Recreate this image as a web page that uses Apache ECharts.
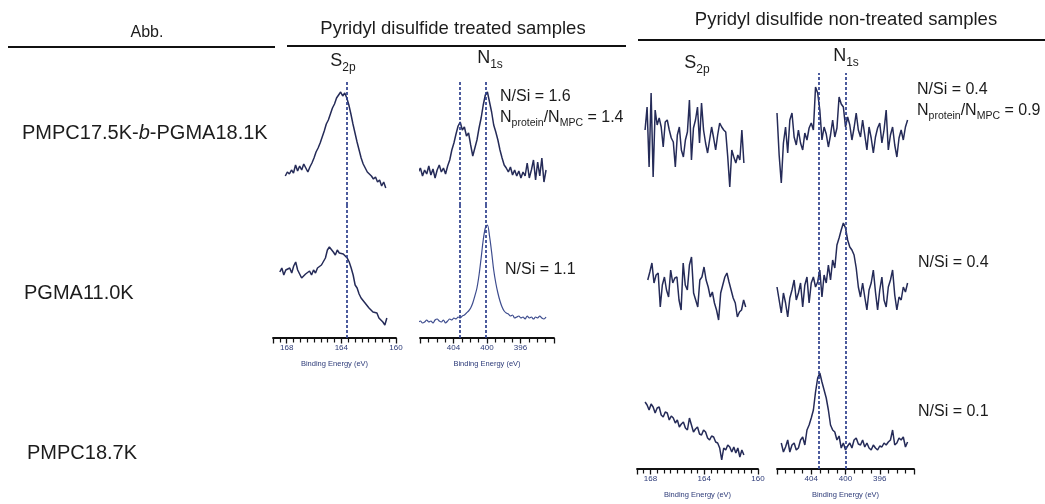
<!DOCTYPE html>
<html>
<head>
<meta charset="utf-8">
<script src="https://cdn.jsdelivr.net/npm/echarts@6/dist/echarts.min.js"></script>
<style>
html, body { margin: 0; padding: 0; background: #fff; }
#chart { width: 1045px; height: 504px; }
</style>
</head>
<body>
<div id="chart"></div>
<script>
// sample names and quoted ratios
const rowNames = ['PMPC17.5K-b-PGMA18.1K', 'PGMA11.0K', 'PMPC18.7K']
const nSiTreated = ['1.6', '1.1']
const nSiNonTreated = ['0.4', '0.4', '0.1']
const ratioTreated = '1.4'
const ratioNonTreated = '0.9'

// reference peak positions (eV)
const s2pRef = [163.6]
const n1sRefTreated = [403.3, 400.1]
const n1sRefNonTreated = [403.1, 400.0]

// energy windows (eV)
const s2pRange = [160, 169]
const n1sRange = [392, 408]

// scans: [start eV, step eV] + intensities (a.u.)
const treatedS2p1Scan = [168.1, 0.15]
const treatedS2p1 = [29, 33, 31, 35, 32, 40, 34, 39, 35, 41, 37, 33, 38, 42, 47, 53, 57, 62, 68, 74, 81, 85, 91, 97, 101, 107, 110, 113, 109, 112, 107, 100, 91, 81, 72, 63, 55, 47, 41, 37, 33, 31, 29, 26, 28, 23, 25, 19, 23, 17]
const treatedS2p2Scan = [168.5, 0.145]
const treatedS2p2 = [66, 70, 63, 68, 66, 70, 65, 72, 76, 68, 66, 60, 58, 64, 62, 67, 63, 68, 65, 70, 68, 73, 72, 80, 88, 91, 93, 86, 83, 88, 85, 87, 84, 86, 80, 76, 70, 63, 53, 50, 44, 40, 38, 35, 33, 30, 31, 26, 24, 25, 20, 22, 16, 13, 20]
const treatedN1s1Scan = [408.2, 0.25]
const treatedN1s1 = [33, 37, 29, 35, 31, 39, 30, 36, 27, 35, 40, 33, 37, 31, 39, 45, 55, 62, 71, 79, 83, 75, 78, 69, 72, 60, 49, 57, 65, 77, 87, 100, 110, 113, 103, 93, 80, 73, 65, 55, 47, 40, 37, 33, 38, 30, 35, 29, 34, 27, 33, 29, 42, 27, 35, 45, 25, 43, 29, 47, 23, 35]
const treatedN1s2Scan = [408.2, 0.25]
const treatedN1s2 = [16, 17, 15, 16, 18, 16, 17, 15, 18, 19, 17, 16, 18, 15, 17, 19, 18, 20, 19, 21, 20, 22, 23, 25, 27, 30, 35, 42, 50, 63, 80, 98, 110, 113, 102, 86, 68, 55, 45, 37, 31, 27, 25, 24, 22, 23, 20, 21, 22, 20, 21, 19, 22, 20, 21, 19, 21, 20, 22, 20, 19, 21]

const nonS2p1Scan = [168.4, 0.15]
const nonS2p1 = [75, 98, 38, 112, 28, 95, 80, 87, 78, 58, 83, 85, 75, 67, 63, 38, 70, 78, 55, 48, 65, 73, 105, 45, 77, 85, 98, 62, 102, 75, 62, 52, 65, 78, 67, 55, 70, 82, 78, 75, 73, 48, 18, 55, 48, 42, 50, 45, 75, 42]
const nonN1s1Scan = [408.0, 0.25]
const nonN1s1 = [92, 50, 22, 62, 78, 52, 85, 92, 68, 60, 75, 62, 55, 72, 65, 77, 82, 75, 118, 112, 95, 65, 78, 71, 58, 70, 85, 68, 77, 108, 101, 98, 78, 88, 80, 65, 77, 92, 75, 68, 85, 70, 55, 78, 67, 52, 68, 77, 82, 62, 75, 95, 55, 70, 78, 60, 48, 67, 75, 65, 78, 85]
const nonS2p2Scan = [168.2, 0.155]
const nonS2p2 = [60, 68, 77, 57, 65, 67, 33, 55, 63, 50, 43, 70, 57, 62, 63, 40, 30, 77, 55, 50, 75, 83, 47, 40, 33, 60, 63, 73, 60, 53, 43, 48, 37, 30, 20, 47, 55, 63, 67, 58, 50, 42, 37, 23, 28, 30, 40, 33]
const nonN1s2Scan = [408.0, 0.25]
const nonN1s2 = [53, 40, 27, 47, 37, 23, 42, 50, 60, 40, 47, 57, 33, 55, 63, 37, 57, 63, 53, 58, 70, 43, 65, 57, 75, 60, 80, 72, 95, 102, 110, 117, 112, 100, 93, 90, 85, 72, 53, 43, 57, 43, 30, 50, 57, 70, 48, 30, 50, 63, 40, 33, 53, 60, 70, 45, 30, 43, 40, 53, 48, 57]
const nonS2p3Scan = [168.4, 0.15]
const nonS2p3 = [67, 64, 59, 65, 62, 56, 61, 62, 54, 52, 57, 56, 49, 53, 51, 46, 49, 42, 45, 47, 41, 39, 51, 44, 37, 40, 42, 35, 34, 39, 37, 31, 29, 33, 32, 27, 26, 21, 9, 21, 19, 24, 22, 17, 22, 16, 21, 12, 19, 14]
const nonN1s3Scan = [407.5, 0.25]
const nonN1s3 = [26, 17, 22, 29, 17, 24, 26, 19, 21, 29, 32, 24, 39, 44, 51, 59, 77, 91, 96, 87, 79, 71, 59, 44, 39, 37, 29, 33, 21, 26, 19, 23, 26, 21, 29, 31, 25, 24, 29, 22, 26, 21, 19, 24, 21, 19, 23, 22, 26, 24, 27, 29, 39, 24, 26, 31, 29, 32, 22, 27]

const FONT = '"Liberation Sans", Arial, sans-serif'
const INK = '#1c1c1c'
const AXIS_BLUE = '#2c3a78'

const chart = echarts.init(document.getElementById('chart'))

function pts (scan, vals) {
  return vals.map((v, i) => [+(scan[0] - i * scan[1]).toFixed(3), v])
}

// panels: grid box, energy window, which one carries the visible axis
const panels = [
  { left: 273, top: 80, width: 123, height: 125, range: s2pRange, axis: false, data: pts(treatedS2p1Scan, treatedS2p1), refs: s2pRef },
  { left: 273, top: 205, width: 123, height: 133, range: s2pRange, axis: true, data: pts(treatedS2p2Scan, treatedS2p2), refs: s2pRef },
  { left: 420, top: 80, width: 134, height: 125, range: n1sRange, axis: false, data: pts(treatedN1s1Scan, treatedN1s1), refs: n1sRefTreated },
  { left: 420, top: 205, width: 134, height: 133, range: n1sRange, axis: true, data: pts(treatedN1s2Scan, treatedN1s2), refs: n1sRefTreated, smooth: true },
  { left: 637, top: 73, width: 121, height: 132, range: s2pRange, axis: false, data: pts(nonS2p1Scan, nonS2p1), refs: [] },
  { left: 637, top: 205, width: 121, height: 135, range: s2pRange, axis: false, data: pts(nonS2p2Scan, nonS2p2), refs: [] },
  { left: 637, top: 340, width: 121, height: 129, range: s2pRange, axis: true, data: pts(nonS2p3Scan, nonS2p3), refs: [] },
  { left: 777, top: 73, width: 137, height: 132, range: n1sRange, axis: false, data: pts(nonN1s1Scan, nonN1s1), refs: n1sRefNonTreated },
  { left: 777, top: 205, width: 137, height: 135, range: n1sRange, axis: false, data: pts(nonN1s2Scan, nonN1s2), refs: n1sRefNonTreated },
  { left: 777, top: 340, width: 137, height: 129, range: n1sRange, axis: true, data: pts(nonN1s3Scan, nonN1s3), refs: n1sRefNonTreated }
]

const grid = panels.map(p => ({ left: p.left, top: p.top, width: p.width, height: p.height }))

const xAxis = panels.map((p, i) => {
  const isS = p.range === s2pRange
  return {
    type: 'value',
    gridIndex: i,
    min: p.range[0],
    max: p.range[1],
    interval: 4,
    inverse: true,
    show: p.axis,
    axisLine: { lineStyle: { color: '#111', width: 1.8 } },
    axisTick: { length: 5.5, lineStyle: { color: '#111', width: 1.3 } },
    minorTick: { show: true, splitNumber: isS ? 8 : 4, length: 4.5, lineStyle: { color: '#111', width: 1.2 } },
    splitLine: { show: false },
    axisLabel: {
      fontSize: 8,
      fontFamily: FONT,
      color: AXIS_BLUE,
      margin: 6,
      formatter: v => {
        if (isS) return v % 4 === 0 ? String(v) : ''
        return (v > 392 && v < 408) ? String(v) : ''
      }
    },
    name: 'Binding Energy (eV)',
    nameLocation: 'middle',
    nameGap: 22,
    nameTextStyle: { fontSize: 7.5, fontFamily: FONT, color: AXIS_BLUE }
  }
})

const yAxis = panels.map((p, i) => ({
  type: 'value', gridIndex: i, min: 0, max: p.height, show: false
}))

const series = panels.map((p, i) => ({
  type: 'line',
  xAxisIndex: i,
  yAxisIndex: i,
  data: p.data,
  showSymbol: false,
  smooth: p.smooth ? 0.3 : false,
  lineStyle: { color: p.smooth ? '#3d4c8e' : '#252b58', width: p.smooth ? 1.2 : 1.5 },
  markLine: {
    silent: true,
    symbol: 'none',
    label: { show: false },
    lineStyle: { color: '#2d3f8c', type: [3, 2], width: 1.7 },
    data: p.refs.map(v => ({ xAxis: v }))
  }
}))

// text runs laid out piece by piece so subscripts sit low
const measureCtx = document.createElement('canvas').getContext('2d')
function widthOf (t, size, italic) {
  measureCtx.font = (italic ? 'italic ' : '') + size + 'px ' + FONT
  return measureCtx.measureText(t).width
}

// segs: [text, fontSize, dy, italic]
function runText (x, y, segs, align, sx) {
  sx = sx || 1
  const total = segs.reduce((s, g) => s + widthOf(g[0], g[1], g[3]), 0) * sx
  let cx = align === 'center' ? x - total / 2 : x
  return segs.map(g => {
    const el = {
      type: 'text',
      x: cx,
      y: y + (g[2] || 0),
      scaleX: sx,
      style: {
        text: g[0],
        fontSize: g[1],
        fontFamily: FONT,
        fontStyle: g[3] ? 'italic' : 'normal',
        fill: INK,
        align: 'left',
        verticalAlign: 'middle'
      }
    }
    cx += widthOf(g[0], g[1], g[3]) * sx
    return el
  })
}

function hline (x1, x2, y) {
  return {
    type: 'line',
    shape: { x1: x1, y1: y, x2: x2, y2: y },
    style: { stroke: '#111', lineWidth: 2 }
  }
}

function ratioText (x, y, val) {
  return runText(x, y, [['N', 16], ['protein', 10.5, 5], ['/N', 16], ['MPC', 10.5, 5], [' = ' + val, 16]])
}

const bName = rowNames[0].split('-b-')

const graphic = [
  hline(8, 275, 47),
  hline(287, 626, 46),
  hline(638, 1045, 40),
  ...runText(147, 33, [['Abb.', 16]], 'center'),
  ...runText(453, 29, [['Pyridyl disulfide treated samples', 18.5]], 'center'),
  ...runText(846, 20, [['Pyridyl disulfide non-treated samples', 18.5]], 'center'),
  ...runText(343, 61, [['S', 18], ['2p', 12, 7]], 'center'),
  ...runText(490, 58, [['N', 18], ['1s', 12, 7]], 'center'),
  ...runText(697, 63, [['S', 18], ['2p', 12, 7]], 'center'),
  ...runText(846, 56, [['N', 18], ['1s', 12, 7]], 'center'),
  ...runText(22, 133, [[bName[0] + '-', 20], ['b', 20, 0, true], ['-' + bName[1], 20]]),
  ...runText(24, 293, [[rowNames[1], 20]]),
  ...runText(27, 453, [[rowNames[2], 20]]),
  ...runText(500, 97, [['N/Si = ' + nSiTreated[0], 16]]),
  ...ratioText(500, 118, ratioTreated),
  ...runText(505, 270, [['N/Si = ' + nSiTreated[1], 16]]),
  ...runText(917, 90, [['N/Si = ' + nSiNonTreated[0], 16]]),
  ...ratioText(917, 111, ratioNonTreated),
  ...runText(918, 263, [['N/Si = ' + nSiNonTreated[1], 16]]),
  ...runText(918, 412, [['N/Si = ' + nSiNonTreated[2], 16]])
]

chart.setOption({
  backgroundColor: '#fff',
  animation: false,
  grid: grid,
  xAxis: xAxis,
  yAxis: yAxis,
  series: series,
  graphic: graphic
})
</script>
</body>
</html>
